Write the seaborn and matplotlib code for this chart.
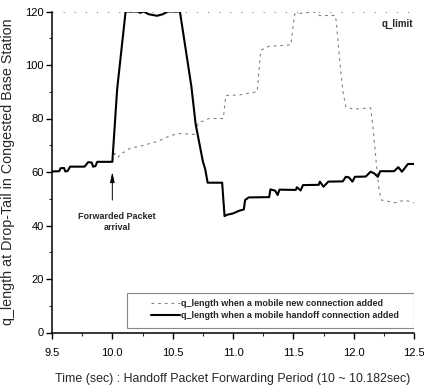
import matplotlib
matplotlib.use("Agg")
import matplotlib.pyplot as plt
import seaborn as sns
import pandas as pd
from matplotlib.patches import Rectangle

# ---- data ----
t_handoff = [9.50, 9.56, 9.57, 9.60, 9.61, 9.63, 9.65, 9.77, 9.80, 9.83, 9.84, 9.86, 9.875,
             10.00, 10.04, 10.11, 10.21, 10.23, 10.26, 10.30, 10.37, 10.42, 10.46, 10.56,
             10.655, 10.69, 10.75, 10.77, 10.79, 10.91, 10.93, 10.95, 11.00, 11.05, 11.09,
             11.10, 11.13, 11.30, 11.31, 11.35, 11.37, 11.385, 11.52, 11.53, 11.56, 11.58,
             11.71, 11.72, 11.75, 11.79, 11.91, 11.935, 11.96, 11.99, 12.01, 12.10, 12.14,
             12.17, 12.20, 12.22, 12.335, 12.37, 12.40, 12.45, 12.50]
q_handoff = [60.2, 60.3, 61.4, 61.5, 60.2, 60.4, 62.0, 62.0, 63.7, 63.5, 62.0, 62.2, 63.8,
             63.8, 91.0, 120.0, 120.0, 119.5, 120.0, 119.0, 118.4, 119.0, 120.0, 120.0,
             92.0, 78.0, 64.0, 61.0, 56.0, 56.0, 43.5, 44.0, 44.5, 45.5, 46.0,
             49.5, 50.5, 50.6, 53.5, 53.0, 51.4, 53.4, 53.3, 54.3, 53.1, 55.1,
             55.2, 56.4, 54.5, 56.4, 56.5, 58.2, 58.0, 56.4, 58.2, 58.3, 60.1,
             59.5, 58.2, 60.3, 60.3, 61.8, 60.1, 63.0, 63.0]

t_new = [10.00, 10.02, 10.05, 10.06, 10.12, 10.15, 10.22, 10.30, 10.38, 10.45, 10.54,
         10.70, 10.71, 10.75, 10.80, 10.92, 10.94, 11.05, 11.20, 11.23, 11.30, 11.48,
         11.51, 11.60, 11.66, 11.72, 11.85, 11.865, 11.89, 11.91, 11.935, 12.00, 12.14,
         12.16, 12.185, 12.21, 12.23, 12.35, 12.42, 12.50]
q_new = [64.0, 67.0, 65.5, 66.5, 68.0, 69.0, 69.5, 70.5, 71.5, 73.0, 74.4,
         74.0, 78.5, 79.0, 80.0, 80.0, 88.6, 88.8, 90.0, 105.5, 107.0, 107.5,
         119.0, 119.5, 120.0, 118.5, 118.5, 111.7, 99.0, 90.5, 84.3, 83.5, 84.0,
         76.8, 64.5, 53.3, 49.5, 48.5, 49.5, 48.5]

q_limit_x = [9.5, 12.5]
q_limit_y = [120, 120]

label_new = "q_length when a mobile new connection added"
label_handoff = "q_length when a mobile handoff connection added"
xlabel = "Time (sec) : Handoff Packet Forwarding Period (10 ~ 10.182sec)"
ylabel = "q_length at Drop-Tail in Congested Base Station"
xticks = [9.5, 10.0, 10.5, 11.0, 11.5, 12.0, 12.5]
yticks = [0, 20, 40, 60, 80, 100, 120]

df_h = pd.DataFrame({"t": t_handoff, "q": q_handoff})
df_n = pd.DataFrame({"t": t_new, "q": q_new})
df_l = pd.DataFrame({"t": q_limit_x, "q": q_limit_y})

sns.set_style("ticks")
plt.rcParams["font.family"] = ["Liberation Sans", "DejaVu Sans"]

fig = plt.figure(figsize=(4.24, 3.87), dpi=100)
ax = fig.add_axes([52 / 424, 1 - 332.5 / 387, (414 - 52) / 424, (332.5 - 11.5) / 387])

sns.lineplot(data=df_l, x="t", y="q", ax=ax, color="#888888", lw=0.8,
             linestyle=(0, (1, 9)), legend=False)
sns.lineplot(data=df_n, x="t", y="q", ax=ax, color="#808080", lw=0.8,
             linestyle=(0, (2.5, 3.5)), label=label_new, sort=False)
sns.lineplot(data=df_h, x="t", y="q", ax=ax, color="black", lw=1.5,
             label=label_handoff, sort=False)

ax.set_xlim(9.5, 12.5)
ax.set_ylim(0, 120)
ax.set_xticks(xticks)
ax.set_xticklabels([f"{v:.1f}" for v in xticks])
ax.set_yticks(yticks)
ax.set_xticks([9.75 + 0.5 * i for i in range(6)], minor=True)
ax.set_yticks([10 + 20 * i for i in range(6)], minor=True)
ax.tick_params(axis="both", which="major", direction="out", length=4, width=1.0,
               labelsize=8, pad=2, colors="black")
ax.tick_params(axis="x", which="major", pad=7)
ax.tick_params(axis="both", which="minor", direction="out", length=2.5, width=0.8)
sns.despine(ax=ax, top=True, right=True)
for s in ("left", "bottom"):
    ax.spines[s].set_linewidth(1.1)
    ax.spines[s].set_color("black")

ax.set_xlabel(xlabel, fontsize=8.9, labelpad=11)
ax.set_ylabel(ylabel, fontsize=10.3, labelpad=7)

# legend
handles, labels = ax.get_legend_handles_labels()
leg = ax.legend(handles, labels, loc="upper left",
                bbox_to_anchor=((151 - 52) / 362, (332.5 - 299.5) / 321),
                frameon=False, fontsize=6.5, handlelength=3.2, handletextpad=0.1,
                labelspacing=0.3, borderpad=0.0, borderaxespad=0.0)
for txt in leg.get_texts():
    txt.set_fontweight("bold")
ax.add_patch(Rectangle(((127 - 52) / 362, (332.5 - 328) / 321), (414 - 127) / 362,
                       (328 - 293) / 321, transform=ax.transAxes, fill=False,
                       edgecolor="#888888", lw=0.8, zorder=5))

# annotations
ax.annotate("", xy=(10.0, 60), xytext=(10.0, 49.5),
            arrowprops=dict(arrowstyle="-|>,head_length=0.6,head_width=0.13",
                            color="black", lw=0.7, shrinkA=0, shrinkB=0))
ax.text(10.04, 41.3, "Forwarded Packet\narrival", ha="center", va="center",
        fontsize=6.5, fontweight="bold", linespacing=1.3)
ax.text(12.49, 115.5, "q_limit", ha="right", va="center", fontsize=7,
        fontweight="bold")

fig.savefig("out.png", dpi=100)
